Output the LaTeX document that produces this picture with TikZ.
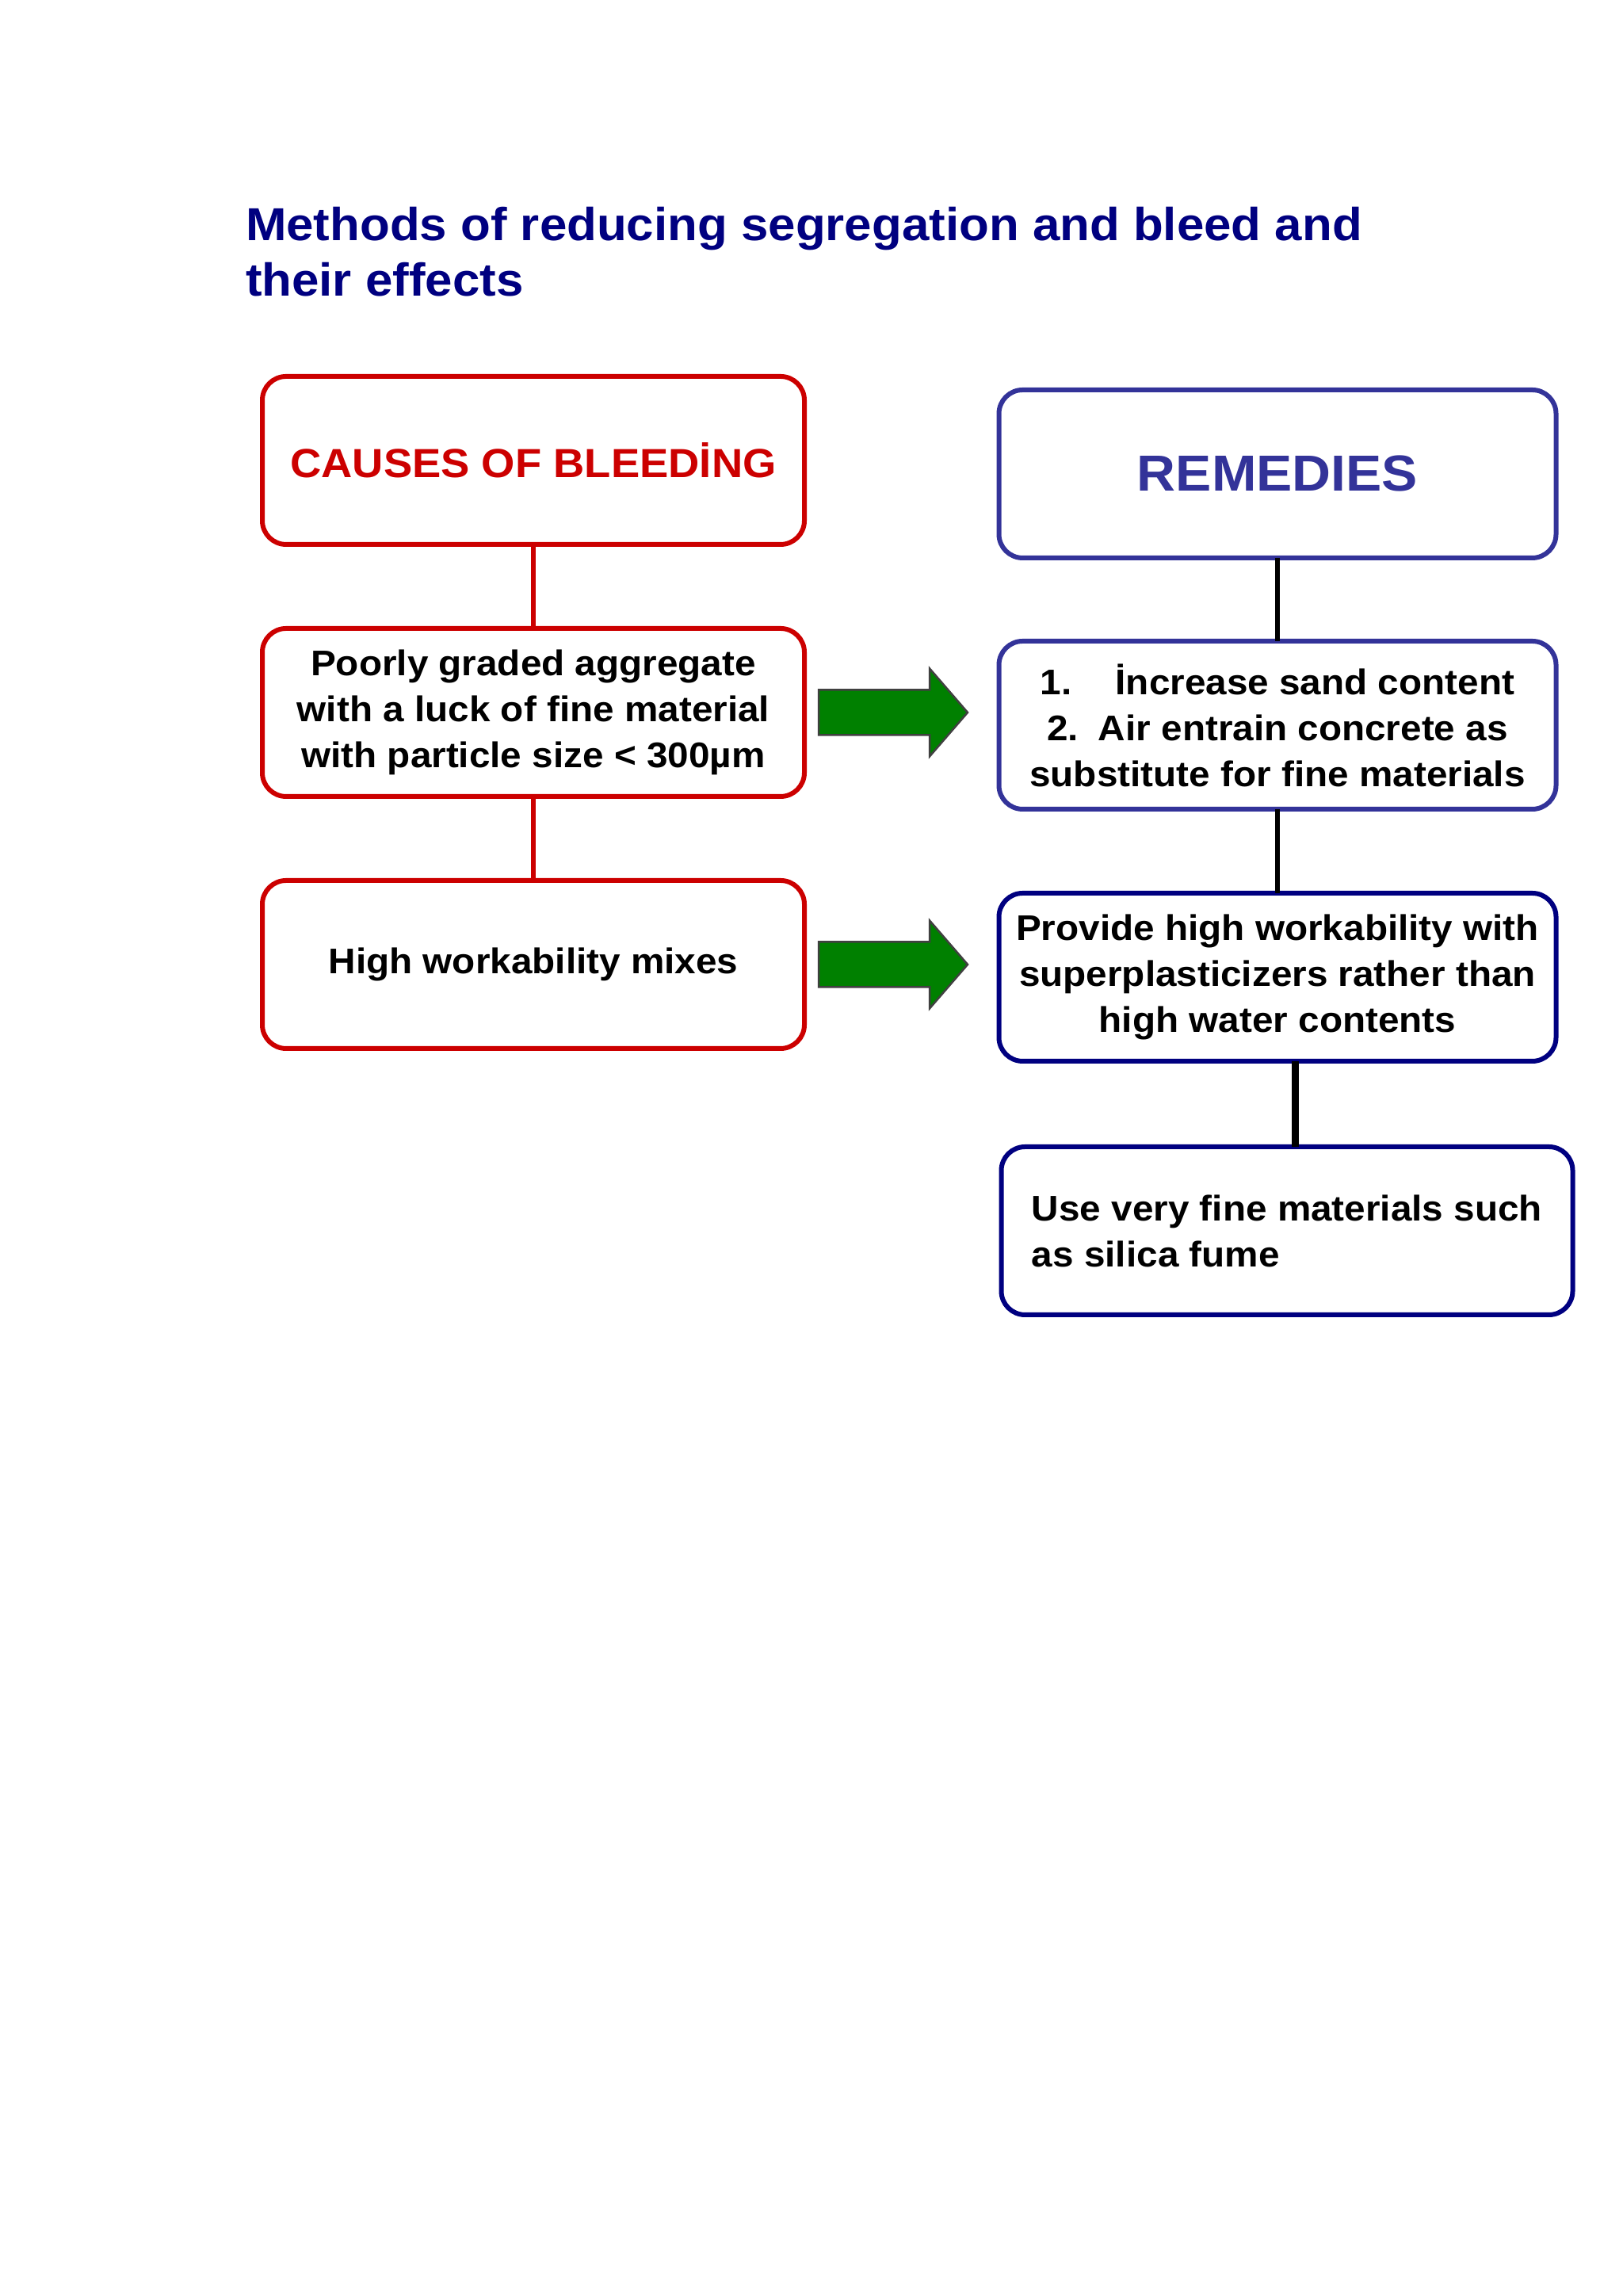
\documentclass[tikz,border=0pt]{standalone}
\usepackage{fontspec}
\setmainfont{Liberation Sans}[FakeStretch=1.06]
\definecolor{cCC0000}{RGB}{204,0,0}
\definecolor{c333399}{RGB}{51,51,153}
\definecolor{c000080}{RGB}{0,0,128}
\definecolor{c008000}{RGB}{0,128,0}
\definecolor{c404040}{RGB}{64,64,64}

\begin{document}
\begin{tikzpicture}[y=1mm, x=1mm, inner sep=0pt, outer sep=0pt,
  causebox/.style={draw=cCC0000, fill=white, line width=0.6mm, rounded corners=3mm,
    minimum width=68.4mm, minimum height=21.2mm, align=center,
    font=\fontsize{12.8}{16.5}\selectfont\bfseries},
  remedybox/.style={causebox, draw=c333399, minimum width=70.3mm},
  causeline/.style={draw=cCC0000, line width=0.55mm},
  remedyline/.style={draw=black, line width=0.6mm},
  greenarrow/.style={draw=c404040, fill=c008000, line width=0.25mm, line join=miter}]

  \path[fill=white] (0.0, 0.0) rectangle (204.8, 289.7);

  \node[anchor=north west, align=left, text=c000080,
    font=\fontsize{16.6}{19.9}\selectfont\bfseries] (title) at (31.0, 263.6)
    {Methods of reducing segregation and bleed and\\their effects};

  % causes column
  \node[causebox, text=cCC0000, font=\fontsize{14.6}{17}\selectfont\bfseries] (causes) at (67.3, 231.6){CAUSES OF BLEEDİNG};
  \node[causebox] (grading) at (67.3, 199.8){Poorly graded aggregate\\with a luck of fine material\\with particle size < 300µm};
  \node[causebox] (workability) at (67.3, 168.0){High workability mixes};

  % remedies column
  \node[remedybox, text=c333399, font=\fontsize{18.2}{21}\selectfont\bfseries] (remedies) at (161.2, 229.9){REMEDIES};
  \node[remedybox] (sand) at (161.2, 198.2){1.\hspace{5.5mm}İncrease sand content\\2.\hspace{2.5mm}Air entrain concrete as\\substitute for fine materials};
  \node[remedybox, draw=c000080] (plasticizer) at (161.2, 166.4){Provide high workability with\\superplasticizers rather than\\high water contents};
  \node[remedybox, draw=c000080, minimum width=72.1mm, align=left] (silica) at (162.4, 134.4){Use very fine materials such\\as silica fume};

  \draw[causeline] (causes) -- (grading);
  \draw[causeline] (grading) -- (workability);

  \draw[remedyline] (remedies) -- (sand);
  \draw[remedyline] (sand) -- (plasticizer);
  \draw[remedyline, line width=0.9mm] ([xshift=1mm]silica.north) -- ([xshift=1mm]silica.north |- plasticizer.south);

  \foreach \src in {grading, workability}
    \draw[greenarrow] ([xshift=1.8mm]\src.east) ++(0,2.85) -- ++(14.0,0) -- ++(0,2.7)
      -- ++(4.8,-5.55) -- ++(-4.8,-5.55) -- ++(0,2.7) -- ++(-14.0,0) -- cycle;

\end{tikzpicture}
\end{document}
